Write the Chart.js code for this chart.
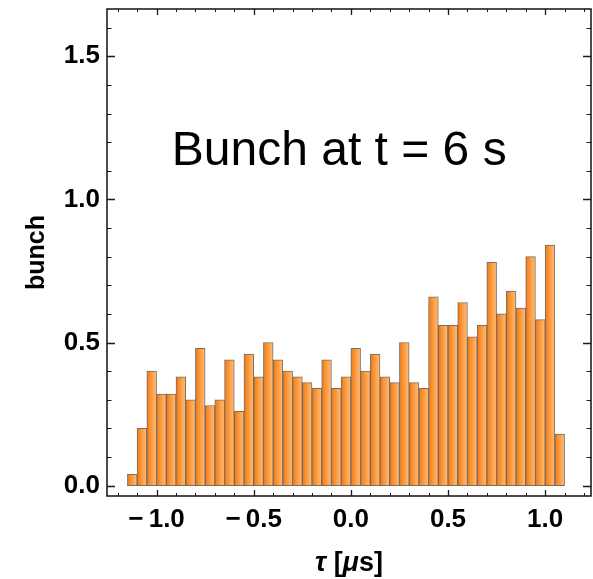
<!DOCTYPE html>
<html>
<head>
<meta charset="utf-8">
<script src="https://cdn.jsdelivr.net/npm/chart.js@4.4.1/dist/chart.umd.min.js"></script>
<style>
  html, body { margin: 0; padding: 0; background: #ffffff; }
  #wrap { width: 593px; height: 579px; }
</style>
</head>
<body>
<div id="wrap"><canvas id="c" width="593" height="579"></canvas></div>
<script>
// ---- data ----
const binCenters = [-1.125, -1.075, -1.025, -0.975, -0.925, -0.875, -0.825, -0.775, -0.725, -0.675,
                    -0.625, -0.575, -0.525, -0.475, -0.425, -0.375, -0.325, -0.275, -0.225, -0.175,
                    -0.125, -0.075, -0.025, 0.025, 0.075, 0.125, 0.175, 0.225, 0.275, 0.325,
                    0.375, 0.425, 0.475, 0.525, 0.575, 0.625, 0.675, 0.725, 0.775, 0.825,
                    0.875, 0.925, 0.975, 1.025, 1.075];
const bunchValues = [0.04, 0.20, 0.40, 0.32, 0.32, 0.38, 0.30, 0.48, 0.28, 0.30,
                     0.44, 0.26, 0.46, 0.38, 0.50, 0.44, 0.40, 0.38, 0.36, 0.34,
                     0.44, 0.34, 0.38, 0.48, 0.40, 0.46, 0.38, 0.36, 0.50, 0.36,
                     0.34, 0.66, 0.56, 0.56, 0.64, 0.52, 0.56, 0.78, 0.60, 0.68,
                     0.62, 0.80, 0.58, 0.84, 0.18];
const binWidth = 0.05;
const xTickValues = [-1.0, -0.5, 0.0, 0.5, 1.0];
const xTickLabels = ['\u2212\u20091.0', '\u2212\u20090.5', '0.0', '0.5', '1.0'];
const yTickValues = [0.0, 0.5, 1.0, 1.5];
const yTickLabels = ['0.0', '0.5', '1.0', '1.5'];
const xMinorTicks = [-1.2, -1.1, -0.9, -0.8, -0.7, -0.6, -0.4, -0.3, -0.2, -0.1, 0.1, 0.2, 0.3, 0.4, 0.6, 0.7, 0.8, 0.9, 1.1, 1.2];
const yMinorTicks = [0.1, 0.2, 0.3, 0.4, 0.6, 0.7, 0.8, 0.9, 1.1, 1.2, 1.3, 1.4, 1.6];
const plotLabel = 'Bunch at t = 6 s';
const plotLabelPos = { x: -0.06, y: 1.12 };
// x title parts: [text, italic]
const xTitleParts = [['\u03C4', true], [' [', false], ['\u03BC', true], ['s]', false]];
const yTitle = 'bunch';

const FONT = "'Liberation Sans', Arial, Helvetica, sans-serif";

const points = binCenters.map((c, i) => ({ x: c, y: bunchValues[i] }));

function barFill(ctx) {
  const chart = ctx.chart;
  const xs = chart.scales && chart.scales.x;
  if (!xs || ctx.dataIndex === undefined || !chart.chartArea) return '#F9962F';
  const c = binCenters[ctx.dataIndex];
  const x0 = xs.getPixelForValue(c - binWidth / 2);
  const x1 = xs.getPixelForValue(c + binWidth / 2);
  const g = chart.ctx.createLinearGradient(x0, 0, x1, 0);
  g.addColorStop(0, '#E8761A');
  g.addColorStop(0.3, '#F98E2C');
  g.addColorStop(1, '#FFBE7A');
  return g;
}

const framePlugin = {
  id: 'frameTicks',
  afterDatasetsDraw(chart) {
    const { ctx, chartArea: a, scales } = chart;
    const xs = scales.x, ys = scales.y;
    ctx.save();
    ctx.strokeStyle = '#1a1a1a';
    const drawX = (v, len) => {
      const px = Math.round(xs.getPixelForValue(v)) + 0.5;
      ctx.beginPath();
      ctx.moveTo(px, a.bottom); ctx.lineTo(px, a.bottom - len);
      ctx.moveTo(px, a.top); ctx.lineTo(px, a.top + len);
      ctx.stroke();
    };
    const drawY = (v, len) => {
      const py = Math.round(ys.getPixelForValue(v)) + 0.5;
      ctx.beginPath();
      ctx.moveTo(a.left, py); ctx.lineTo(a.left + len, py);
      ctx.moveTo(a.right, py); ctx.lineTo(a.right - len, py);
      ctx.stroke();
    };
    ctx.lineWidth = 1.3;
    xTickValues.forEach(v => drawX(v, 6));
    yTickValues.forEach(v => drawY(v, 8));
    ctx.lineWidth = 1;
    xMinorTicks.forEach(v => drawX(v, 3));
    yMinorTicks.forEach(v => drawY(v, 4.5));
    // frame
    ctx.lineWidth = 1.5;
    ctx.strokeStyle = '#111111';
    ctx.strokeRect(a.left, a.top, a.right - a.left, a.bottom - a.top);
    // plot label
    ctx.fillStyle = '#000000';
    ctx.font = '48px ' + FONT;
    ctx.textAlign = 'center';
    ctx.textBaseline = 'alphabetic';
    ctx.fillText(plotLabel, xs.getPixelForValue(plotLabelPos.x), ys.getPixelForValue(plotLabelPos.y));
    // x axis title with mixed styles
    const fontFor = it => (it ? 'italic bold ' : 'bold ') + '27px ' + FONT;
    let total = 0;
    xTitleParts.forEach(([t, it]) => { ctx.font = fontFor(it); total += ctx.measureText(t).width; });
    let tx = (a.left + a.right) / 2 - total / 2;
    const ty = 571;
    ctx.textAlign = 'left';
    xTitleParts.forEach(([t, it]) => {
      ctx.font = fontFor(it);
      ctx.fillText(t, tx, ty);
      tx += ctx.measureText(t).width;
    });
    ctx.restore();
  }
};

new Chart(document.getElementById('c'), {
  type: 'bar',
  data: {
    datasets: [{
      label: 'bunch',
      data: points,
      backgroundColor: barFill,
      borderColor: 'rgba(105,85,65,0.85)',
      borderWidth: 1,
      borderSkipped: false,
      barPercentage: 1.0,
      categoryPercentage: 1.0,
      grouped: false
    }]
  },
  options: {
    responsive: false,
    animation: false,
    devicePixelRatio: 1,
    layout: { padding: { top: 9, right: 2, left: 0, bottom: 0 } },
    plugins: { legend: { display: false }, tooltip: { enabled: false }, title: { display: false } },
    scales: {
      x: {
        type: 'linear',
        offset: false,
        min: -1.255,
        max: 1.236,
        grid: { display: false, drawTicks: false, offset: false },
        border: { display: false },
        afterFit(scale) { scale.height = 83; scale.paddingLeft = 0; scale.paddingRight = 0; },
        afterBuildTicks(scale) { scale.ticks = xTickValues.map(v => ({ value: v })); },
        ticks: {
          autoSkip: false,
          maxRotation: 0,
          padding: 8,
          color: '#000000',
          font: { family: FONT, size: 26, weight: 'bold' },
          callback(value) {
            const i = xTickValues.findIndex(t => Math.abs(t - value) < 1e-9);
            return i >= 0 ? xTickLabels[i] : '';
          }
        },
        title: { display: false }
      },
      y: {
        type: 'linear',
        min: -0.036,
        max: 1.665,
        grid: { display: false, drawTicks: false },
        border: { display: false },
        afterFit(scale) { scale.width = 107; scale.paddingTop = 0; scale.paddingBottom = 0; },
        afterBuildTicks(scale) { scale.ticks = yTickValues.map(v => ({ value: v })); },
        ticks: {
          autoSkip: false,
          padding: 7,
          color: '#000000',
          font: { family: FONT, size: 26, weight: 'bold' },
          callback(value) {
            const i = yTickValues.findIndex(t => Math.abs(t - value) < 1e-9);
            return i >= 0 ? yTickLabels[i] : '';
          }
        },
        title: {
          display: true,
          text: yTitle,
          color: '#000000',
          font: { family: FONT, size: 25, weight: 'bold' },
          padding: { top: 22, bottom: 0 }
        }
      }
    }
  },
  plugins: [framePlugin]
});
</script>
</body>
</html>
